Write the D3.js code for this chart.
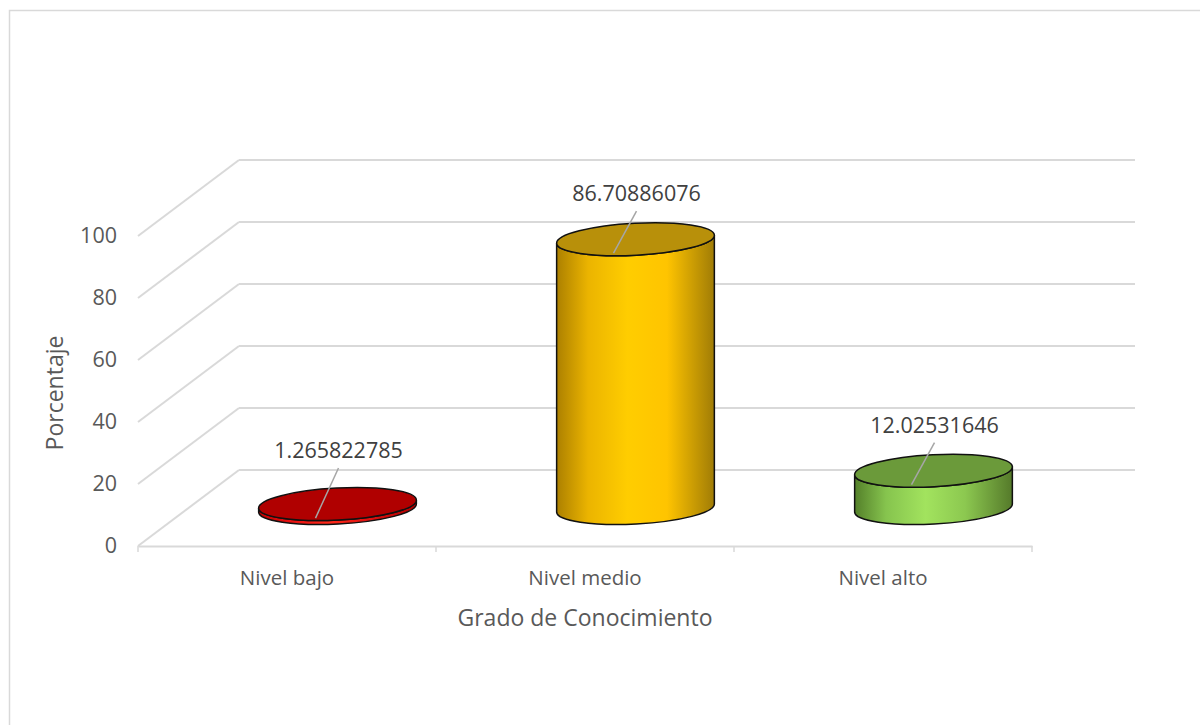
<!DOCTYPE html>
<html>
<head>
<meta charset="utf-8">
<script src="https://cdn.jsdelivr.net/npm/d3@7"></script>
<style>
  html, body { margin: 0; padding: 0; background: #fff; }
  svg { display: block; font-family: "Open Sans", "Noto Sans", sans-serif; }
</style>
</head>
<body>
<svg id="chart" width="1200" height="725"></svg>
<script>
// Knowledge level distribution (percent)
const categories = ["Nivel bajo", "Nivel medio", "Nivel alto"];
const values = [1.265822785, 86.70886076, 12.02531646];
const valueLabels = ["1.265822785", "86.70886076", "12.02531646"];
const yTicks = [0, 20, 40, 60, 80, 100];
const xTitle = "Grado de Conocimiento";
const yTitle = "Porcentaje";

// Colour schemes per cylinder: top face, side gradient stops
const palettes = [
  { top: "#b00000", side: ["#c00000", "#e81010", "#ff2a1a", "#e01010", "#b00000"] },
  { top: "#b8900a", side: ["#ac8000", "#ebb400", "#ffcd00", "#ffc400", "#a07c06"] },
  { top: "#6b9a3a", side: ["#54802a", "#86c44e", "#a2e35e", "#8cc850", "#557a2a"] }
];

const svg = d3.select("#chart");
const defs = svg.append("defs");

// Outer chart frame
svg.append("rect")
  .attr("x", 9.5).attr("y", 10.5)
  .attr("width", 1220).attr("height", 730)
  .attr("fill", "#fff").attr("stroke", "#d9d9d9").attr("stroke-width", 1.5);

// 3D projection: front plane scales plus a depth offset toward the back wall
const x = d3.scaleBand().domain(categories).range([138, 1032]).paddingInner(0).paddingOuter(0);
const y = d3.scaleLinear().domain([0, 100]).range([546, 236]);
const depth = { dx: 101, dy: -76 };
const gridColor = "#d9d9d9";

const grid = svg.append("g");
yTicks.forEach(t => {
  const yf = y(t), yb = y(t) + depth.dy;
  // side wall diagonal
  grid.append("line")
    .attr("x1", 138).attr("y1", yf)
    .attr("x2", 138 + depth.dx).attr("y2", yb)
    .attr("stroke", gridColor).attr("stroke-width", 2);
  // back wall line
  grid.append("line")
    .attr("x1", 138 + depth.dx).attr("y1", yb)
    .attr("x2", 1032 + depth.dx + 2).attr("y2", yb)
    .attr("stroke", gridColor).attr("stroke-width", 2);
});

// Front floor edge with category tick marks
const xAxis = d3.axisBottom(x).tickSize(0).tickFormat("");
const xAxisG = svg.append("g").attr("transform", `translate(0,${y(0)})`).call(xAxis);
xAxisG.select(".domain").attr("stroke", gridColor).attr("stroke-width", 2);
const bounds = [138].concat(categories.map(c => x(c) + x.bandwidth()));
bounds.forEach(b => {
  svg.append("line")
    .attr("x1", b).attr("x2", b)
    .attr("y1", y(0)).attr("y2", y(0) + 6)
    .attr("stroke", gridColor).attr("stroke-width", 1.5);
});

// Y tick labels on the front-left edge
const yAxis = d3.axisLeft(y).tickValues(yTicks).tickSize(0).tickPadding(0);
const yAxisG = svg.append("g").attr("transform", "translate(117,0)").call(yAxis);
yAxisG.select(".domain").remove();
yAxisG.selectAll("text")
  .attr("font-size", 21.5).attr("fill", "#595959")
  .attr("font-family", "'Open Sans', 'Noto Sans', sans-serif");

// Category labels
svg.append("g").selectAll("text").data(categories).join("text")
  .attr("x", d => x(d) + x.bandwidth() / 2)
  .attr("y", 585)
  .attr("text-anchor", "middle")
  .attr("font-size", 20.5).attr("fill", "#595959")
  .text(d => d);

// Axis titles
svg.append("text")
  .attr("x", 585).attr("y", 626)
  .attr("text-anchor", "middle")
  .attr("font-size", 23).attr("fill", "#595959")
  .text(xTitle);

svg.append("text")
  .attr("transform", "translate(63,393) rotate(-90)")
  .attr("text-anchor", "middle")
  .attr("font-size", 23).attr("fill", "#595959")
  .text(yTitle);

// Cylinders
const rx = x.bandwidth() * 0.265;
const ry = 16;
const tiltDeg = -3;
const tilt = tiltDeg * Math.PI / 180;
const ex = rx * Math.cos(tilt), ey = rx * Math.sin(tilt);

palettes.forEach((p, i) => {
  const g = defs.append("linearGradient")
    .attr("id", "side" + i)
    .attr("x1", "0%").attr("x2", "100%").attr("y1", "0%").attr("y2", "0%");
  const offs = [0, 0.2, 0.45, 0.7, 1];
  p.side.forEach((c, k) => g.append("stop").attr("offset", offs[k]).attr("stop-color", c));
});

const bars = svg.append("g");
const labels = svg.append("g");

categories.forEach((c, i) => {
  const v = values[i];
  const cx = x(c) + x.bandwidth() / 2 + depth.dx / 2;
  const baseY = y(0) + depth.dy / 2;
  const topY = y(v) + depth.dy / 2;
  const p = palettes[i];

  // side surface: left edge down, front arc of base, right edge up, front arc of top
  const path = [
    `M${cx - ex},${topY - ey}`,
    `L${cx - ex},${baseY - ey}`,
    `A${rx},${ry} ${tiltDeg} 0 0 ${cx + ex},${baseY + ey}`,
    `L${cx + ex},${topY + ey}`,
    `A${rx},${ry} ${tiltDeg} 0 1 ${cx - ex},${topY - ey}`,
    "Z"
  ].join(" ");

  bars.append("path")
    .attr("d", path)
    .attr("fill", `url(#side${i})`)
    .attr("stroke", "#111").attr("stroke-width", 1.5)
    .attr("stroke-linejoin", "round");

  bars.append("ellipse")
    .attr("cx", 0).attr("cy", 0).attr("rx", rx).attr("ry", ry)
    .attr("transform", `translate(${cx},${topY}) rotate(${tiltDeg})`)
    .attr("fill", p.top)
    .attr("stroke", "#111").attr("stroke-width", 1.5);

  // value label with leader line; short cylinders keep a minimum clearance above the floor
  const baseline = Math.min(topY - 38, baseY - 50);
  labels.append("line")
    .attr("x1", cx + 1).attr("y1", baseline + 10)
    .attr("x2", cx - 22).attr("y2", topY + ry - 2)
    .attr("stroke", "#a6a6a6").attr("stroke-width", 1.5);

  labels.append("text")
    .attr("x", cx + 1).attr("y", baseline)
    .attr("text-anchor", "middle")
    .attr("font-size", 21.5).attr("fill", "#404040")
    .text(valueLabels[i]);
});
</script>
</body>
</html>
